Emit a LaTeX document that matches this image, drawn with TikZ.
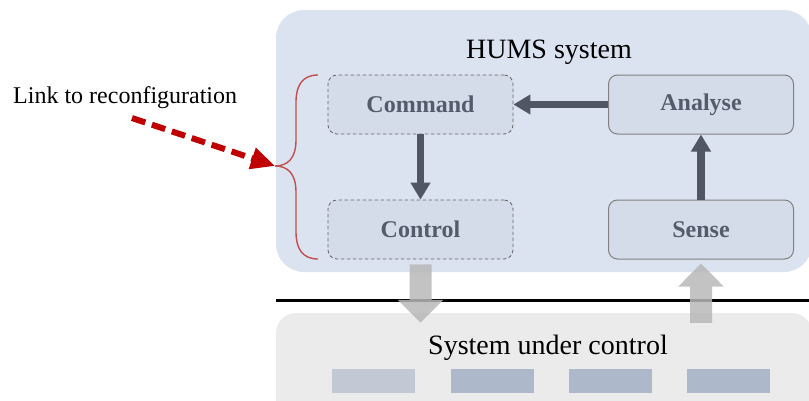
\documentclass[tikz,border=0pt]{standalone}
\usepackage{fontspec}
\setmainfont{Liberation Serif}
\usetikzlibrary{arrows.meta}
\definecolor{humsbg}{HTML}{DCE3F0}
\definecolor{boxfill}{HTML}{D5DCE9}
\definecolor{boxtext}{HTML}{545B6A}
\definecolor{darkarrow}{HTML}{505664}
\definecolor{sucbg}{HTML}{EBEBEB}
\definecolor{blockA}{HTML}{C2C9D4}
\definecolor{blockB}{HTML}{ADB8CB}
\definecolor{bracered}{HTML}{C0504D}
\definecolor{linkred}{HTML}{C00000}
\definecolor{blockgray}{HTML}{B8B8B8}
\tikzset{
  stagebox/.style={rounded corners=9pt, minimum width=185pt, minimum height=59pt,
    fill=boxfill, text=boxtext, font=\fontsize{24}{28}\selectfont\bfseries, inner sep=0pt},
  planbox/.style={stagebox, draw=black!60, dashed, line width=0.8pt, dash pattern=on 3.5pt off 2.5pt},
  realbox/.style={stagebox, draw=black!50, line width=1pt},
  flow/.style={draw=darkarrow, line width=7.5pt, -{Triangle[length=17pt,width=19pt]}},
  grayarrow/.style={draw=blockgray, line width=22pt, -{Triangle[length=23pt,width=44pt]}},
  unit/.style={fill=blockB, minimum width=83pt, minimum height=24pt, inner sep=0pt},
  bigtext/.style={font=\fontsize{28}{32}\selectfont, anchor=base, inner sep=0pt}
}
\begin{document}
\begin{tikzpicture}[x=1pt,y=-1pt]
\useasboundingbox (0,0) rectangle (809,400);
% HUMS container
\node[fill=humsbg, rounded corners=28pt, minimum width=536pt, minimum height=262pt,
  inner sep=0pt] (hums) at (544,141) {};
\node[bigtext] (humstitle) at (549,58) {HUMS system};
% stage boxes
\node[planbox] (command) at (420.5,104.5) {Command};
\node[planbox] (control) at (420.5,229.5) {Control};
\node[realbox] (analyse) at (701,104.5) {Analyse};
\node[realbox] (sense) at (701,229.5) {Sense};
\draw[flow] (analyse.west) -- (command.east);
\draw[flow] (command.south) -- (control.north);
\draw[flow] (sense.north) -- (analyse.south);
% brace
\coordinate (bracetip) at (275,166);
\draw[bracered, line width=1.4pt]
  (318,75) .. controls (302,75) and (296,86) .. (296,102) -- (296,140)
  .. controls (296,158) and (288,166) .. (bracetip)
  .. controls (288,166) and (296,174) .. (296,192) -- (296,232)
  .. controls (296,248) and (302,259) .. (318,259);
% link text and arrow
\node[bigtext, anchor=base west, font=\fontsize{24}{28}\selectfont] (linktext) at (13,103) {Link to reconfiguration};
\coordinate (linkstart) at (132,118);
\draw[linkred, line width=6pt, dash pattern=on 14pt off 7pt,
  -{Triangle[length=24pt,width=21pt]}] (linkstart) -- (bracetip);
% separator line
\draw[line width=3pt] (276,300) -- (809,300);
% system under control
\node[fill=sucbg, rounded corners=20pt, minimum width=536pt, minimum height=110pt,
  inner sep=0pt] (suc) at (544,368) {};
\node[bigtext] (suctext) at (548,354) {System under control};
\node[unit, fill=blockA] (u1) at (373.5,381) {};
\node[unit] (u2) at (492,381) {};
\node[unit] (u3) at (610,381) {};
\node[unit] (u4) at (728.5,381) {};
% gray block arrows
\begin{scope}[transparency group, opacity=0.85]
\draw[grayarrow] ([yshift=-5pt]control.south) -- ([yshift=-10pt]control.south |- suc.north);
\end{scope}
\begin{scope}[transparency group, opacity=0.85]
\draw[grayarrow] ([yshift=-10pt]sense.south |- suc.north) -- ([yshift=-4pt]sense.south);
\end{scope}
\end{tikzpicture}
\end{document}
